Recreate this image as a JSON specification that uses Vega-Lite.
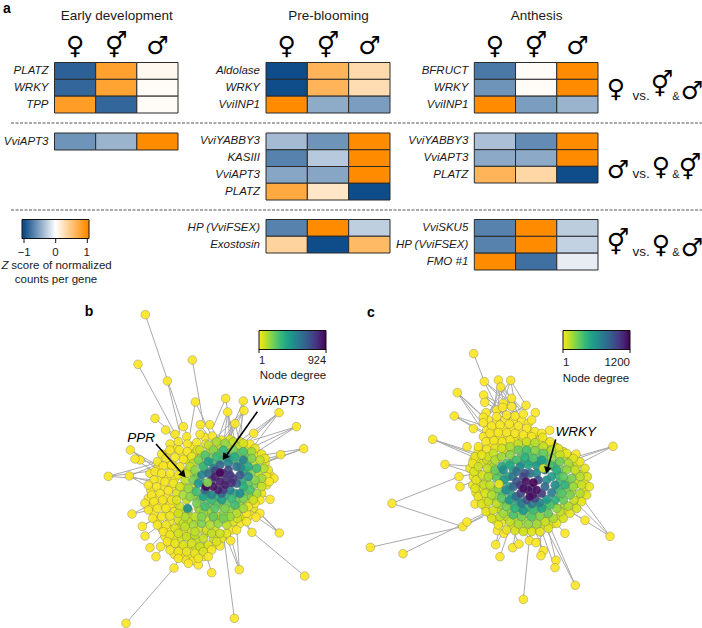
{"$schema":"https://vega.github.io/schema/vega-lite/v6.json","width":702,"height":628,"padding":0,"autosize":"none","background":"white",
"config":{"view":{"stroke":null},"font":"Liberation Sans","axis":{"grid":false,"domain":false,"ticks":false,"labelFont":"Liberation Sans","labelFontStyle":"italic","labelFontSize":11.5,"labelColor":"#1a1a1a","labelPadding":6.5,"labelOverlap":false,"title":null},"axisTop":{"labelFont":"DejaVu Sans","labelFontStyle":"normal","labelFontWeight":"bold","labelFontSize":25,"labelColor":"#000","labelAngle":0,"labelPadding":4,"titleFont":"Liberation Sans","titleFontSize":13.5,"titleFontWeight":"normal","titleColor":"#1a1a1a","titlePadding":11}},
"resolve":{"scale":{"x":"independent","y":"independent","color":"independent"}},
"layer":[
{"resolve":{"scale":{"x":"independent","y":"independent"}},
"encoding":{"color":{"field":"z","type":"quantitative","scale":{"domain":[-1.07,-1,0,1,1.07],"range":["#0f4c8a","#0f4c8a","#ffffff","#ff8c00","#ff8c00"],"interpolate":"rgb"},"legend":{"orient":"none","legendX":22,"legendY":219.5,"direction":"horizontal","gradientLength":67,"gradientThickness":19,"values":[-1,0,1],"format":".0f","labelAlign":"center","labelOffset":8,"labelFontSize":11.5,"labelColor":"#1a1a1a","labelFont":"Liberation Sans","title":null,"gradientStrokeColor":"#111","gradientStrokeWidth":1}}},
"layer":[
{"data":{"values":[{"gene":"PLATZ","sex":"♀","z":-0.88},{"gene":"PLATZ","sex":"⚥","z":0.82},{"gene":"PLATZ","sex":"♂","z":0.06},{"gene":"WRKY","sex":"♀","z":-0.85},{"gene":"WRKY","sex":"⚥","z":0.8},{"gene":"WRKY","sex":"♂","z":0.03},{"gene":"TPP","sex":"♀","z":0.85},{"gene":"TPP","sex":"⚥","z":-0.85},{"gene":"TPP","sex":"♂","z":0.03}]},"mark":{"type":"rect","stroke":"#2b2b2b","strokeWidth":1},
"encoding":{"x":{"field":"sex","type":"nominal","scale":{"domain":["♀","⚥","♂"],"range":[54.5,178],"paddingInner":0,"paddingOuter":0},"axis":{"orient":"top","offset":-62.5,"title":"Early development"}},"y":{"field":"gene","type":"nominal","scale":{"domain":["PLATZ","WRKY","TPP"],"range":[62.5,113],"paddingInner":0,"paddingOuter":0},"axis":{"orient":"left","offset":-54.5}}}},
{"data":{"values":[{"gene":"VviAPT3","sex":"♀","z":-0.6},{"gene":"VviAPT3","sex":"⚥","z":-0.42},{"gene":"VviAPT3","sex":"♂","z":1}]},"mark":{"type":"rect","stroke":"#2b2b2b","strokeWidth":1},
"encoding":{"x":{"field":"sex","type":"nominal","scale":{"domain":["♀","⚥","♂"],"range":[54.5,178],"paddingInner":0,"paddingOuter":0},"axis":null},"y":{"field":"gene","type":"nominal","scale":{"domain":["VviAPT3"],"range":[133,150],"paddingInner":0,"paddingOuter":0},"axis":{"orient":"left","offset":-54.5}}}},
{"data":{"values":[{"gene":"Aldolase","sex":"♀","z":-1},{"gene":"Aldolase","sex":"⚥","z":0.65},{"gene":"Aldolase","sex":"♂","z":0.32},{"gene":"WRKY","sex":"♀","z":-1},{"gene":"WRKY","sex":"⚥","z":0.65},{"gene":"WRKY","sex":"♂","z":0.3},{"gene":"VviINP1","sex":"♀","z":1},{"gene":"VviINP1","sex":"⚥","z":-0.47},{"gene":"VviINP1","sex":"♂","z":-0.55}]},"mark":{"type":"rect","stroke":"#2b2b2b","strokeWidth":1},
"encoding":{"x":{"field":"sex","type":"nominal","scale":{"domain":["♀","⚥","♂"],"range":[266,390],"paddingInner":0,"paddingOuter":0},"axis":{"orient":"top","offset":-62.5,"title":"Pre-blooming"}},"y":{"field":"gene","type":"nominal","scale":{"domain":["Aldolase","WRKY","VviINP1"],"range":[62.5,113],"paddingInner":0,"paddingOuter":0},"axis":{"orient":"left","offset":-266}}}},
{"data":{"values":[{"gene":"VviYABBY3","sex":"♀","z":-0.38},{"gene":"VviYABBY3","sex":"⚥","z":-0.6},{"gene":"VviYABBY3","sex":"♂","z":1},{"gene":"KASIII","sex":"♀","z":-0.7},{"gene":"KASIII","sex":"⚥","z":-0.3},{"gene":"KASIII","sex":"♂","z":1},{"gene":"VviAPT3","sex":"♀","z":-0.5},{"gene":"VviAPT3","sex":"⚥","z":-0.5},{"gene":"VviAPT3","sex":"♂","z":1},{"gene":"PLATZ","sex":"♀","z":0.75},{"gene":"PLATZ","sex":"⚥","z":0.22},{"gene":"PLATZ","sex":"♂","z":-1}]},"mark":{"type":"rect","stroke":"#2b2b2b","strokeWidth":1},
"encoding":{"x":{"field":"sex","type":"nominal","scale":{"domain":["♀","⚥","♂"],"range":[266,390],"paddingInner":0,"paddingOuter":0},"axis":null},"y":{"field":"gene","type":"nominal","scale":{"domain":["VviYABBY3","KASIII","VviAPT3","PLATZ"],"range":[133,200],"paddingInner":0,"paddingOuter":0},"axis":{"orient":"left","offset":-266}}}},
{"data":{"values":[{"gene":"HP (VviFSEX)","sex":"♀","z":-0.7},{"gene":"HP (VviFSEX)","sex":"⚥","z":1},{"gene":"HP (VviFSEX)","sex":"♂","z":-0.27},{"gene":"Exostosin","sex":"♀","z":0.38},{"gene":"Exostosin","sex":"⚥","z":-1},{"gene":"Exostosin","sex":"♂","z":0.6}]},"mark":{"type":"rect","stroke":"#2b2b2b","strokeWidth":1},
"encoding":{"x":{"field":"sex","type":"nominal","scale":{"domain":["♀","⚥","♂"],"range":[266,390],"paddingInner":0,"paddingOuter":0},"axis":null},"y":{"field":"gene","type":"nominal","scale":{"domain":["HP (VviFSEX)","Exostosin"],"range":[219.5,253],"paddingInner":0,"paddingOuter":0},"axis":{"orient":"left","offset":-266}}}},
{"data":{"values":[{"gene":"BFRUCT","sex":"♀","z":-0.75},{"gene":"BFRUCT","sex":"⚥","z":0.03},{"gene":"BFRUCT","sex":"♂","z":1},{"gene":"WRKY","sex":"♀","z":-0.6},{"gene":"WRKY","sex":"⚥","z":0.03},{"gene":"WRKY","sex":"♂","z":1},{"gene":"VviINP1","sex":"♀","z":1},{"gene":"VviINP1","sex":"⚥","z":-0.55},{"gene":"VviINP1","sex":"♂","z":-0.42}]},"mark":{"type":"rect","stroke":"#2b2b2b","strokeWidth":1},
"encoding":{"x":{"field":"sex","type":"nominal","scale":{"domain":["♀","⚥","♂"],"range":[474.3,598],"paddingInner":0,"paddingOuter":0},"axis":{"orient":"top","offset":-62.5,"title":"Anthesis"}},"y":{"field":"gene","type":"nominal","scale":{"domain":["BFRUCT","WRKY","VviINP1"],"range":[62.5,113],"paddingInner":0,"paddingOuter":0},"axis":{"orient":"left","offset":-474.3}}}},
{"data":{"values":[{"gene":"VviYABBY3","sex":"♀","z":-0.35},{"gene":"VviYABBY3","sex":"⚥","z":-0.65},{"gene":"VviYABBY3","sex":"♂","z":1},{"gene":"VviAPT3","sex":"♀","z":-0.48},{"gene":"VviAPT3","sex":"⚥","z":-0.48},{"gene":"VviAPT3","sex":"♂","z":1},{"gene":"PLATZ","sex":"♀","z":0.65},{"gene":"PLATZ","sex":"⚥","z":0.35},{"gene":"PLATZ","sex":"♂","z":-1}]},"mark":{"type":"rect","stroke":"#2b2b2b","strokeWidth":1},
"encoding":{"x":{"field":"sex","type":"nominal","scale":{"domain":["♀","⚥","♂"],"range":[474.3,598],"paddingInner":0,"paddingOuter":0},"axis":null},"y":{"field":"gene","type":"nominal","scale":{"domain":["VviYABBY3","VviAPT3","PLATZ"],"range":[133,183],"paddingInner":0,"paddingOuter":0},"axis":{"orient":"left","offset":-474.3}}}},
{"data":{"values":[{"gene":"VviSKU5","sex":"♀","z":-0.7},{"gene":"VviSKU5","sex":"⚥","z":1},{"gene":"VviSKU5","sex":"♂","z":-0.28},{"gene":"HP (VviFSEX)","sex":"♀","z":-0.7},{"gene":"HP (VviFSEX)","sex":"⚥","z":1},{"gene":"HP (VviFSEX)","sex":"♂","z":-0.25},{"gene":"FMO #1","sex":"♀","z":1},{"gene":"FMO #1","sex":"⚥","z":-0.8},{"gene":"FMO #1","sex":"♂","z":-0.1}]},"mark":{"type":"rect","stroke":"#2b2b2b","strokeWidth":1},
"encoding":{"x":{"field":"sex","type":"nominal","scale":{"domain":["♀","⚥","♂"],"range":[474.3,598],"paddingInner":0,"paddingOuter":0},"axis":null},"y":{"field":"gene","type":"nominal","scale":{"domain":["VviSKU5","HP (VviFSEX)","FMO #1"],"range":[219.5,270],"paddingInner":0,"paddingOuter":0},"axis":{"orient":"left","offset":-474.3}}}}
]},
{"encoding":{"x":{"field":"x","type":"quantitative","scale":{"domain":[-240,1866],"nice":false,"zero":false},"axis":null},"y":{"field":"y","type":"quantitative","scale":{"domain":[984,-900],"nice":false,"zero":false},"axis":null},"color":{"field":"d","type":"quantitative","scale":{"scheme":"viridis","reverse":true,"domain":[1,924]},"legend":{"orient":"none","legendX":259,"legendY":330.5,"direction":"horizontal","gradientLength":67,"gradientThickness":19,"values":[1,924],"format":"d","labelAlign":"center","labelOffset":5,"labelFontSize":11,"labelColor":"#1a1a1a","labelFont":"Liberation Sans","title":null,"gradientStrokeColor":"#111","gradientStrokeWidth":1}}},
"layer":[
{"data":{"values":[{"x":196,"y":44,"x2":310,"y2":380},{"x":174,"y":193,"x2":285,"y2":400},{"x":337,"y":180,"x2":370,"y2":370},{"x":262,"y":243,"x2":300,"y2":400},{"x":346,"y":306,"x2":400,"y2":420},{"x":346,"y":306,"x2":330,"y2":400},{"x":437,"y":295,"x2":400,"y2":380},{"x":437,"y":295,"x2":460,"y2":440},{"x":490,"y":303,"x2":440,"y2":420},{"x":490,"y":303,"x2":480,"y2":440},{"x":443,"y":336,"x2":430,"y2":440},{"x":443,"y":336,"x2":450,"y2":440},{"x":443,"y":336,"x2":470,"y2":440},{"x":492,"y":332,"x2":470,"y2":430},{"x":492,"y":332,"x2":420,"y2":430},{"x":492,"y":332,"x2":440,"y2":430},{"x":597,"y":338,"x2":470,"y2":430},{"x":597,"y":338,"x2":520,"y2":440},{"x":597,"y":338,"x2":500,"y2":420},{"x":649,"y":380,"x2":520,"y2":420},{"x":649,"y":380,"x2":540,"y2":450},{"x":671,"y":446,"x2":550,"y2":490},{"x":671,"y":446,"x2":570,"y2":480},{"x":602,"y":464,"x2":540,"y2":500},{"x":602,"y":464,"x2":550,"y2":480},{"x":151,"y":450,"x2":240,"y2":500},{"x":151,"y":450,"x2":250,"y2":520},{"x":85,"y":529,"x2":240,"y2":510},{"x":85,"y":529,"x2":230,"y2":540},{"x":148,"y":528,"x2":240,"y2":490},{"x":148,"y":528,"x2":230,"y2":550},{"x":180,"y":480,"x2":260,"y2":500},{"x":165,"y":477,"x2":260,"y2":540},{"x":570,"y":598,"x2":510,"y2":560},{"x":156,"y":642,"x2":240,"y2":600},{"x":598,"y":699,"x2":500,"y2":600},{"x":598,"y":699,"x2":520,"y2":620},{"x":598,"y":699,"x2":470,"y2":610},{"x":516,"y":697,"x2":480,"y2":640},{"x":674,"y":828,"x2":520,"y2":700},{"x":478,"y":809,"x2":430,"y2":690},{"x":478,"y":809,"x2":450,"y2":700},{"x":463,"y":955,"x2":430,"y2":700},{"x":138,"y":970,"x2":282,"y2":804},{"x":395,"y":818,"x2":380,"y2":770},{"x":282,"y":804,"x2":300,"y2":770},{"x":187,"y":679,"x2":250,"y2":640},{"x":195,"y":708,"x2":260,"y2":660},{"x":210,"y":743,"x2":270,"y2":680},{"x":228,"y":770,"x2":280,"y2":700},{"x":225,"y":355,"x2":300,"y2":420},{"x":257,"y":390,"x2":320,"y2":440},{"x":310,"y":380,"x2":330,"y2":420},{"x":361,"y":374,"x2":400,"y2":430},{"x":389,"y":374,"x2":430,"y2":440},{"x":465,"y":371,"x2":440,"y2":430},{"x":465,"y":371,"x2":480,"y2":430},{"x":521,"y":400,"x2":480,"y2":440},{"x":540,"y":640,"x2":480,"y2":620},{"x":528,"y":652,"x2":470,"y2":630},{"x":492,"y":332,"x2":400,"y2":420},{"x":443,"y":336,"x2":410,"y2":430},{"x":597,"y":338,"x2":490,"y2":440},{"x":649,"y":380,"x2":500,"y2":450},{"x":671,"y":446,"x2":520,"y2":470},{"x":85,"y":529,"x2":260,"y2":480},{"x":148,"y":528,"x2":240,"y2":580},{"x":598,"y":699,"x2":490,"y2":590},{"x":156,"y":642,"x2":260,"y2":620},{"x":478,"y":809,"x2":470,"y2":680},{"x":516,"y":697,"x2":450,"y2":620},{"x":187,"y":679,"x2":280,"y2":620}]},
"mark":{"type":"rule","stroke":"#aaaaaa","strokeWidth":1},"encoding":{"color":{"value":"#aaaaaa"},"x2":{"field":"x2"},"y2":{"field":"y2"}}},
{"data":{"values":[{"x":210,"y":520,"d":10},{"x":235,"y":500,"d":10},{"x":260,"y":495,"d":10},{"x":285,"y":500,"d":10},{"x":262,"y":460,"d":10},{"x":308,"y":465,"d":10},{"x":290,"y":445,"d":10},{"x":335,"y":440,"d":10},{"x":375,"y":412,"d":10},{"x":240,"y":540,"d":10},{"x":265,"y":535,"d":10},{"x":285,"y":535,"d":10},{"x":212,"y":570,"d":10},{"x":250,"y":560,"d":10},{"x":275,"y":565,"d":10},{"x":205,"y":595,"d":10},{"x":235,"y":595,"d":10},{"x":262,"y":590,"d":10},{"x":285,"y":610,"d":20},{"x":218,"y":618,"d":10},{"x":245,"y":612,"d":10},{"x":270,"y":615,"d":10},{"x":222,"y":640,"d":10},{"x":258,"y":640,"d":10},{"x":283,"y":635,"d":20},{"x":232,"y":662,"d":10},{"x":270,"y":665,"d":10},{"x":300,"y":675,"d":50},{"x":245,"y":685,"d":10},{"x":270,"y":690,"d":10},{"x":300,"y":715,"d":60},{"x":255,"y":710,"d":10},{"x":280,"y":715,"d":30},{"x":330,"y":715,"d":70},{"x":350,"y":720,"d":80},{"x":375,"y":700,"d":90},{"x":400,"y":715,"d":70},{"x":425,"y":715,"d":40},{"x":270,"y":735,"d":10},{"x":298,"y":742,"d":30},{"x":322,"y":742,"d":50},{"x":348,"y":745,"d":60},{"x":372,"y":742,"d":60},{"x":398,"y":740,"d":30},{"x":420,"y":738,"d":10},{"x":283,"y":763,"d":10},{"x":308,"y":768,"d":20},{"x":332,"y":770,"d":30},{"x":370,"y":770,"d":20},{"x":340,"y":782,"d":10},{"x":315,"y":778,"d":10},{"x":300,"y":765,"d":10},{"x":555,"y":490,"d":40},{"x":570,"y":525,"d":12},{"x":560,"y":555,"d":30},{"x":545,"y":580,"d":30},{"x":540,"y":600,"d":12},{"x":520,"y":625,"d":30},{"x":510,"y":645,"d":12},{"x":490,"y":650,"d":40},{"x":480,"y":670,"d":12},{"x":455,"y":690,"d":12},{"x":440,"y":700,"d":40},{"x":530,"y":460,"d":40},{"x":505,"y":445,"d":60},{"x":480,"y":425,"d":50},{"x":450,"y":418,"d":40},{"x":425,"y":420,"d":30},{"x":345,"y":460,"d":50},{"x":320,"y":480,"d":50},{"x":325,"y":510,"d":60},{"x":305,"y":520,"d":40},{"x":310,"y":560,"d":50},{"x":320,"y":600,"d":80},{"x":305,"y":640,"d":60},{"x":330,"y":650,"d":70},{"x":355,"y":625,"d":80},{"x":385,"y":640,"d":90},{"x":415,"y":650,"d":90},{"x":445,"y":640,"d":90},{"x":470,"y":625,"d":90},{"x":500,"y":610,"d":90},{"x":515,"y":590,"d":90},{"x":535,"y":550,"d":90},{"x":535,"y":520,"d":90},{"x":525,"y":490,"d":90},{"x":500,"y":465,"d":100},{"x":475,"y":440,"d":100},{"x":445,"y":440,"d":100},{"x":415,"y":440,"d":100},{"x":390,"y":450,"d":100},{"x":365,"y":465,"d":100},{"x":340,"y":520,"d":100},{"x":335,"y":560,"d":100},{"x":380,"y":690,"d":60},{"x":405,"y":690,"d":60},{"x":355,"y":685,"d":60},{"x":330,"y":695,"d":60},{"x":310,"y":695,"d":40},{"x":325,"y":665,"d":80},{"x":350,"y":660,"d":90},{"x":380,"y":660,"d":90},{"x":410,"y":660,"d":90},{"x":440,"y":660,"d":70},{"x":460,"y":665,"d":50},{"x":480,"y":650,"d":50},{"x":345,"y":590,"d":150},{"x":360,"y":630,"d":150},{"x":390,"y":630,"d":150},{"x":420,"y":615,"d":180},{"x":450,"y":630,"d":150},{"x":480,"y":610,"d":150},{"x":505,"y":585,"d":180},{"x":520,"y":555,"d":180},{"x":515,"y":515,"d":180},{"x":500,"y":475,"d":200},{"x":475,"y":460,"d":200},{"x":445,"y":460,"d":200},{"x":415,"y":460,"d":200},{"x":390,"y":475,"d":200},{"x":365,"y":490,"d":200},{"x":350,"y":530,"d":200},{"x":340,"y":575,"d":200},{"x":360,"y":600,"d":220},{"x":385,"y":610,"d":220},{"x":410,"y":610,"d":220},{"x":440,"y":610,"d":220},{"x":470,"y":600,"d":220},{"x":495,"y":575,"d":220},{"x":505,"y":550,"d":220},{"x":495,"y":510,"d":220},{"x":480,"y":490,"d":300},{"x":455,"y":480,"d":300},{"x":425,"y":480,"d":300},{"x":400,"y":490,"d":300},{"x":375,"y":510,"d":300},{"x":370,"y":550,"d":300},{"x":380,"y":580,"d":300},{"x":410,"y":590,"d":350},{"x":440,"y":585,"d":350},{"x":465,"y":580,"d":350},{"x":485,"y":545,"d":350},{"x":490,"y":515,"d":350}]},
"mark":{"type":"point","filled":true,"size":76,"fillOpacity":0.92,"stroke":"#666","strokeWidth":0.5,"strokeOpacity":0.7}},
{"data":{"values":[{"x":196,"y":44,"d":3},{"x":174,"y":193,"d":3},{"x":337,"y":180,"d":3},{"x":262,"y":243,"d":3},{"x":346,"y":306,"d":3},{"x":437,"y":295,"d":3},{"x":490,"y":303,"d":3},{"x":443,"y":336,"d":3},{"x":492,"y":332,"d":3},{"x":597,"y":338,"d":3},{"x":649,"y":380,"d":3},{"x":225,"y":355,"d":3},{"x":257,"y":390,"d":3},{"x":310,"y":380,"d":3},{"x":361,"y":374,"d":3},{"x":389,"y":374,"d":3},{"x":465,"y":371,"d":3},{"x":521,"y":400,"d":3},{"x":671,"y":446,"d":3},{"x":602,"y":464,"d":3},{"x":151,"y":450,"d":3},{"x":85,"y":529,"d":3},{"x":148,"y":528,"d":3},{"x":180,"y":480,"d":3},{"x":165,"y":477,"d":3},{"x":570,"y":598,"d":3},{"x":156,"y":642,"d":3},{"x":598,"y":699,"d":3},{"x":516,"y":697,"d":3},{"x":674,"y":828,"d":3},{"x":478,"y":809,"d":3},{"x":463,"y":955,"d":3},{"x":138,"y":970,"d":3},{"x":395,"y":818,"d":3},{"x":282,"y":804,"d":3},{"x":187,"y":679,"d":3},{"x":195,"y":708,"d":3},{"x":210,"y":743,"d":3},{"x":228,"y":770,"d":3},{"x":540,"y":640,"d":3},{"x":528,"y":652,"d":3},{"x":285,"y":403,"d":12},{"x":320,"y":410,"d":12},{"x":360,"y":403,"d":12},{"x":397,"y":408,"d":12},{"x":270,"y":432,"d":12},{"x":295,"y":425,"d":12},{"x":322,"y":432,"d":12},{"x":350,"y":428,"d":12},{"x":378,"y":432,"d":12},{"x":405,"y":430,"d":20},{"x":510,"y":432,"d":12},{"x":245,"y":462,"d":12},{"x":270,"y":450,"d":12},{"x":298,"y":450,"d":12},{"x":322,"y":455,"d":12},{"x":352,"y":450,"d":30},{"x":545,"y":462,"d":30},{"x":525,"y":445,"d":30},{"x":232,"y":485,"d":12},{"x":258,"y":475,"d":12},{"x":285,"y":472,"d":12},{"x":310,"y":478,"d":12},{"x":335,"y":470,"d":30},{"x":555,"y":475,"d":30},{"x":225,"y":515,"d":12},{"x":250,"y":498,"d":12},{"x":275,"y":495,"d":12},{"x":300,"y":500,"d":20},{"x":565,"y":510,"d":30},{"x":582,"y":535,"d":12},{"x":560,"y":530,"d":30},{"x":568,"y":545,"d":12},{"x":222,"y":540,"d":12},{"x":245,"y":520,"d":12},{"x":270,"y":520,"d":12},{"x":295,"y":525,"d":30},{"x":205,"y":555,"d":12},{"x":230,"y":560,"d":12},{"x":255,"y":545,"d":12},{"x":280,"y":550,"d":20},{"x":215,"y":585,"d":12},{"x":240,"y":580,"d":12},{"x":265,"y":572,"d":12},{"x":290,"y":580,"d":50},{"x":195,"y":610,"d":12},{"x":222,"y":605,"d":12},{"x":248,"y":600,"d":12},{"x":275,"y":600,"d":20},{"x":205,"y":630,"d":12},{"x":232,"y":625,"d":12},{"x":258,"y":625,"d":12},{"x":218,"y":655,"d":12},{"x":245,"y":650,"d":12},{"x":270,"y":648,"d":25},{"x":295,"y":660,"d":60},{"x":232,"y":675,"d":12},{"x":258,"y":675,"d":20},{"x":285,"y":685,"d":50},{"x":310,"y":670,"d":80},{"x":250,"y":695,"d":12},{"x":270,"y":705,"d":25},{"x":295,"y":700,"d":60},{"x":320,"y":710,"d":80},{"x":345,"y":705,"d":90},{"x":370,"y":715,"d":80},{"x":395,"y":700,"d":90},{"x":420,"y":700,"d":70},{"x":262,"y":725,"d":12},{"x":285,"y":730,"d":30},{"x":310,"y":735,"d":50},{"x":335,"y":730,"d":60},{"x":360,"y":740,"d":70},{"x":385,"y":735,"d":50},{"x":410,"y":725,"d":50},{"x":242,"y":740,"d":12},{"x":270,"y":750,"d":12},{"x":295,"y":755,"d":25},{"x":320,"y":755,"d":30},{"x":345,"y":760,"d":30},{"x":370,"y":755,"d":50},{"x":395,"y":750,"d":12},{"x":295,"y":775,"d":12},{"x":325,"y":790,"d":3},{"x":355,"y":795,"d":3},{"x":385,"y":770,"d":12},{"x":355,"y":775,"d":20},{"x":500,"y":640,"d":12},{"x":525,"y":610,"d":12},{"x":505,"y":620,"d":30},{"x":470,"y":690,"d":12},{"x":452,"y":722,"d":3},{"x":472,"y":655,"d":60},{"x":500,"y":665,"d":12},{"x":340,"y":490,"d":100},{"x":360,"y":450,"d":70},{"x":385,"y":435,"d":90},{"x":410,"y":425,"d":120},{"x":435,"y":430,"d":150},{"x":460,"y":425,"d":90},{"x":490,"y":430,"d":60},{"x":515,"y":455,"d":130},{"x":540,"y":480,"d":90},{"x":552,"y":505,"d":110},{"x":545,"y":535,"d":130},{"x":545,"y":560,"d":80},{"x":530,"y":580,"d":120},{"x":520,"y":600,"d":70},{"x":490,"y":625,"d":130},{"x":470,"y":640,"d":100},{"x":450,"y":650,"d":140},{"x":430,"y":640,"d":170},{"x":400,"y":650,"d":120},{"x":370,"y":640,"d":150},{"x":345,"y":650,"d":100},{"x":325,"y":630,"d":140},{"x":300,"y":620,"d":70},{"x":290,"y":600,"d":50},{"x":310,"y":585,"d":120},{"x":300,"y":560,"d":60},{"x":315,"y":540,"d":90},{"x":320,"y":520,"d":70},{"x":330,"y":500,"d":90},{"x":315,"y":650,"d":110},{"x":340,"y":675,"d":130},{"x":365,"y":670,"d":180},{"x":390,"y":675,"d":110},{"x":415,"y":670,"d":150},{"x":440,"y":675,"d":90},{"x":345,"y":695,"d":90},{"x":295,"y":640,"d":70},{"x":315,"y":680,"d":90},{"x":355,"y":480,"d":180},{"x":375,"y":465,"d":250},{"x":400,"y":450,"d":170},{"x":430,"y":450,"d":300},{"x":460,"y":450,"d":190},{"x":490,"y":455,"d":260},{"x":515,"y":475,"d":180},{"x":530,"y":505,"d":280},{"x":525,"y":540,"d":170},{"x":510,"y":570,"d":260},{"x":490,"y":595,"d":190},{"x":465,"y":615,"d":280},{"x":435,"y":625,"d":180},{"x":405,"y":625,"d":240},{"x":375,"y":620,"d":280},{"x":350,"y":610,"d":190},{"x":330,"y":590,"d":160},{"x":325,"y":565,"d":140},{"x":340,"y":540,"d":190},{"x":345,"y":510,"d":160},{"x":430,"y":655,"d":200},{"x":365,"y":650,"d":180},{"x":400,"y":650,"d":220},{"x":370,"y":500,"d":300},{"x":385,"y":485,"d":420},{"x":410,"y":470,"d":300},{"x":440,"y":470,"d":480},{"x":465,"y":470,"d":360},{"x":490,"y":480,"d":520},{"x":505,"y":500,"d":350},{"x":505,"y":530,"d":470},{"x":490,"y":560,"d":340},{"x":480,"y":580,"d":480},{"x":455,"y":595,"d":300},{"x":425,"y":600,"d":400},{"x":395,"y":600,"d":290},{"x":370,"y":590,"d":400},{"x":350,"y":575,"d":280},{"x":355,"y":550,"d":430},{"x":365,"y":525,"d":500},{"x":323,"y":625,"d":470},{"x":482,"y":503,"d":480},{"x":385,"y":520,"d":600},{"x":400,"y":505,"d":480},{"x":420,"y":495,"d":620},{"x":445,"y":490,"d":500},{"x":470,"y":500,"d":560},{"x":480,"y":525,"d":680},{"x":470,"y":550,"d":620},{"x":450,"y":570,"d":520},{"x":425,"y":580,"d":620},{"x":395,"y":585,"d":500},{"x":375,"y":570,"d":620},{"x":445,"y":510,"d":720},{"x":460,"y":535,"d":760},{"x":405,"y":512,"d":720},{"x":395,"y":540,"d":780},{"x":440,"y":540,"d":800},{"x":430,"y":570,"d":740},{"x":405,"y":530,"d":850},{"x":430,"y":520,"d":820},{"x":450,"y":525,"d":780},{"x":455,"y":548,"d":800},{"x":435,"y":555,"d":850},{"x":415,"y":570,"d":850},{"x":400,"y":560,"d":880},{"x":420,"y":545,"d":850},{"x":378,"y":560,"d":910},{"x":420,"y":518,"d":910},{"x":383,"y":548,"d":170}]},
"mark":{"type":"point","filled":true,"size":76,"fillOpacity":0.92,"stroke":"#666","strokeWidth":0.5,"strokeOpacity":0.7}},
{"data":{"values":[{"x":228,"y":432,"x2":305,"y2":519},{"x":532,"y":335,"x2":438,"y2":468}]},"mark":{"type":"rule","strokeWidth":1.6},"encoding":{"color":{"value":"#000"},"x2":{"field":"x2"},"y2":{"field":"y2"}}},
{"data":{"values":[{"x":310,"y":524,"a":138},{"x":434,"y":472,"a":215}]},"mark":{"type":"point","shape":"triangle-up","filled":true,"size":60,"opacity":1},"encoding":{"color":{"value":"#000"},"angle":{"field":"a","type":"quantitative","scale":null}}},
{"data":{"values":[{"x":183,"y":413,"t":"PPR"},{"x":594,"y":304,"t":"VviAPT3"}]},"mark":{"type":"text","fontStyle":"italic","fontSize":13.5,"font":"Liberation Sans"},"encoding":{"color":{"value":"#000"},"text":{"field":"t"}}}
]},
{"encoding":{"x":{"field":"x","type":"quantitative","scale":{"domain":[-1050,1056],"nice":false,"zero":false},"axis":null},"y":{"field":"y","type":"quantitative","scale":{"domain":[984,-900],"nice":false,"zero":false},"axis":null},"color":{"field":"d","type":"quantitative","scale":{"scheme":"viridis","reverse":true,"domain":[1,1200]},"legend":{"orient":"none","legendX":563,"legendY":330.5,"direction":"horizontal","gradientLength":67,"gradientThickness":19,"values":[1,1200],"format":"d","labelAlign":"center","labelOffset":7,"labelFontSize":11.5,"labelColor":"#1a1a1a","labelFont":"Liberation Sans","title":null,"gradientStrokeColor":"#111","gradientStrokeWidth":1}}},
"layer":[
{"data":{"values":[{"x":371,"y":161,"x2":403,"y2":245},{"x":403,"y":245,"x2":450,"y2":340},{"x":403,"y":245,"x2":480,"y2":320},{"x":445,"y":240,"x2":470,"y2":340},{"x":445,"y":240,"x2":430,"y2":340},{"x":482,"y":241,"x2":500,"y2":340},{"x":482,"y":241,"x2":450,"y2":340},{"x":482,"y":241,"x2":530,"y2":320},{"x":452,"y":261,"x2":420,"y2":340},{"x":452,"y":261,"x2":490,"y2":330},{"x":322,"y":278,"x2":400,"y2":350},{"x":322,"y":278,"x2":390,"y2":380},{"x":322,"y":278,"x2":420,"y2":400},{"x":401,"y":285,"x2":450,"y2":330},{"x":401,"y":285,"x2":500,"y2":340},{"x":485,"y":295,"x2":440,"y2":350},{"x":313,"y":348,"x2":400,"y2":400},{"x":313,"y":348,"x2":410,"y2":380},{"x":248,"y":418,"x2":390,"y2":470},{"x":248,"y":418,"x2":380,"y2":460},{"x":248,"y":418,"x2":390,"y2":480},{"x":285,"y":493,"x2":380,"y2":500},{"x":285,"y":493,"x2":370,"y2":520},{"x":126,"y":610,"x2":327,"y2":530},{"x":126,"y":610,"x2":338,"y2":680},{"x":61,"y":742,"x2":338,"y2":680},{"x":159,"y":761,"x2":351,"y2":666},{"x":338,"y":680,"x2":410,"y2":640},{"x":351,"y":666,"x2":420,"y2":630},{"x":338,"y":680,"x2":400,"y2":650},{"x":327,"y":530,"x2":380,"y2":520},{"x":330,"y":560,"x2":380,"y2":540},{"x":789,"y":439,"x2":680,"y2":470},{"x":789,"y":439,"x2":690,"y2":490},{"x":789,"y":439,"x2":670,"y2":480},{"x":780,"y":709,"x2":690,"y2":620},{"x":780,"y":709,"x2":670,"y2":640},{"x":780,"y":709,"x2":700,"y2":600},{"x":705,"y":661,"x2":670,"y2":640},{"x":645,"y":700,"x2":610,"y2":660},{"x":676,"y":856,"x2":600,"y2":680},{"x":676,"y":856,"x2":580,"y2":670},{"x":618,"y":781,"x2":590,"y2":670},{"x":615,"y":803,"x2":570,"y2":680},{"x":520,"y":898,"x2":540,"y2":700},{"x":573,"y":767,"x2":570,"y2":690},{"x":580,"y":752,"x2":550,"y2":680},{"x":558,"y":728,"x2":600,"y2":680},{"x":507,"y":732,"x2":480,"y2":670},{"x":488,"y":743,"x2":500,"y2":680},{"x":450,"y":770,"x2":480,"y2":680},{"x":437,"y":734,"x2":470,"y2":680},{"x":437,"y":734,"x2":450,"y2":680},{"x":538,"y":722,"x2":520,"y2":680},{"x":500,"y":320,"x2":420,"y2":400},{"x":440,"y":320,"x2":500,"y2":400},{"x":520,"y":320,"x2":450,"y2":380},{"x":420,"y":330,"x2":530,"y2":390},{"x":403,"y":245,"x2":500,"y2":320},{"x":445,"y":240,"x2":510,"y2":330},{"x":482,"y":241,"x2":420,"y2":330},{"x":452,"y":261,"x2":440,"y2":340},{"x":452,"y":261,"x2":530,"y2":340},{"x":401,"y":285,"x2":470,"y2":350},{"x":485,"y":295,"x2":420,"y2":340},{"x":404,"y":307,"x2":500,"y2":360},{"x":528,"y":316,"x2":430,"y2":370},{"x":322,"y":278,"x2":410,"y2":360},{"x":322,"y":278,"x2":430,"y2":380},{"x":313,"y":348,"x2":430,"y2":410}]},
"mark":{"type":"rule","strokeWidth":1},"encoding":{"color":{"value":"#aaaaaa"},"x2":{"field":"x2"},"y2":{"field":"y2"}}},
{"data":{"values":[{"x":415,"y":360,"d":8},{"x":440,"y":365,"d":8},{"x":465,"y":360,"d":8},{"x":490,"y":362,"d":8},{"x":515,"y":362,"d":8},{"x":535,"y":370,"d":8},{"x":410,"y":390,"d":10},{"x":435,"y":388,"d":10},{"x":460,"y":385,"d":10},{"x":485,"y":385,"d":10},{"x":510,"y":390,"d":10},{"x":540,"y":395,"d":10},{"x":560,"y":410,"d":10},{"x":400,"y":410,"d":12},{"x":425,"y":410,"d":15},{"x":450,"y":412,"d":15},{"x":475,"y":410,"d":15},{"x":500,"y":415,"d":15},{"x":525,"y":415,"d":20},{"x":550,"y":420,"d":20},{"x":395,"y":450,"d":15},{"x":420,"y":435,"d":20},{"x":445,"y":432,"d":30},{"x":470,"y":432,"d":30},{"x":495,"y":425,"d":30},{"x":520,"y":418,"d":40},{"x":575,"y":430,"d":40},{"x":600,"y":445,"d":40},{"x":385,"y":450,"d":15},{"x":370,"y":480,"d":30},{"x":360,"y":505,"d":30},{"x":380,"y":480,"d":40},{"x":398,"y":490,"d":60},{"x":370,"y":530,"d":40},{"x":385,"y":520,"d":60},{"x":385,"y":550,"d":60},{"x":368,"y":555,"d":30},{"x":390,"y":570,"d":60},{"x":378,"y":578,"d":40},{"x":395,"y":595,"d":60},{"x":405,"y":620,"d":50},{"x":420,"y":640,"d":40},{"x":435,"y":660,"d":40},{"x":455,"y":668,"d":40},{"x":485,"y":680,"d":60},{"x":510,"y":685,"d":70},{"x":535,"y":685,"d":70},{"x":560,"y":685,"d":70},{"x":585,"y":675,"d":80},{"x":610,"y":670,"d":70},{"x":630,"y":650,"d":70},{"x":650,"y":630,"d":80},{"x":670,"y":615,"d":80},{"x":690,"y":595,"d":60},{"x":700,"y":575,"d":60},{"x":705,"y":550,"d":60},{"x":700,"y":520,"d":70},{"x":680,"y":495,"d":80},{"x":660,"y":470,"d":80},{"x":640,"y":455,"d":90},{"x":615,"y":440,"d":90},{"x":410,"y":480,"d":90},{"x":425,"y":495,"d":100},{"x":420,"y":520,"d":100},{"x":408,"y":540,"d":100},{"x":415,"y":570,"d":100},{"x":425,"y":600,"d":110},{"x":445,"y":625,"d":110},{"x":470,"y":650,"d":130},{"x":495,"y":660,"d":130},{"x":520,"y":660,"d":150},{"x":550,"y":660,"d":150},{"x":575,"y":655,"d":150},{"x":600,"y":650,"d":150},{"x":625,"y":625,"d":150},{"x":645,"y":615,"d":150},{"x":665,"y":575,"d":130},{"x":680,"y":550,"d":130},{"x":680,"y":520,"d":130},{"x":660,"y":500,"d":150},{"x":640,"y":475,"d":150},{"x":615,"y":460,"d":180},{"x":590,"y":448,"d":180},{"x":565,"y":440,"d":180},{"x":540,"y":438,"d":180},{"x":515,"y":440,"d":180},{"x":490,"y":452,"d":180},{"x":465,"y":458,"d":180},{"x":445,"y":475,"d":150},{"x":430,"y":500,"d":150},{"x":430,"y":525,"d":150},{"x":430,"y":570,"d":150},{"x":440,"y":590,"d":200},{"x":455,"y":615,"d":200},{"x":480,"y":635,"d":220},{"x":505,"y":640,"d":220},{"x":535,"y":640,"d":250},{"x":560,"y":635,"d":250},{"x":590,"y":625,"d":250},{"x":610,"y":612,"d":250},{"x":630,"y":590,"d":250},{"x":650,"y":570,"d":250},{"x":655,"y":545,"d":250},{"x":640,"y":510,"d":250},{"x":620,"y":490,"d":300},{"x":590,"y":475,"d":300},{"x":565,"y":465,"d":300},{"x":540,"y":462,"d":300},{"x":515,"y":465,"d":300},{"x":490,"y":480,"d":350},{"x":470,"y":490,"d":350},{"x":450,"y":520,"d":350},{"x":452,"y":550,"d":350},{"x":458,"y":580,"d":350},{"x":470,"y":605,"d":350},{"x":485,"y":615,"d":400},{"x":510,"y":622,"d":400},{"x":535,"y":622,"d":400},{"x":565,"y":618,"d":400},{"x":590,"y":610,"d":400},{"x":625,"y":570,"d":400},{"x":630,"y":545,"d":400},{"x":625,"y":525,"d":400},{"x":610,"y":500,"d":400},{"x":590,"y":490,"d":400},{"x":565,"y":485,"d":500},{"x":540,"y":485,"d":500},{"x":515,"y":490,"d":500},{"x":490,"y":510,"d":500},{"x":475,"y":530,"d":500},{"x":478,"y":560,"d":500},{"x":485,"y":585,"d":500},{"x":505,"y":600,"d":500}]},
"mark":{"type":"point","filled":true,"size":76,"fillOpacity":0.92,"stroke":"#666","strokeWidth":0.5,"strokeOpacity":0.7}},
{"data":{"values":[{"x":371,"y":161,"d":5},{"x":403,"y":245,"d":5},{"x":445,"y":240,"d":5},{"x":482,"y":241,"d":5},{"x":452,"y":261,"d":5},{"x":322,"y":278,"d":5},{"x":401,"y":285,"d":5},{"x":485,"y":295,"d":5},{"x":404,"y":307,"d":5},{"x":528,"y":316,"d":5},{"x":313,"y":348,"d":5},{"x":556,"y":338,"d":5},{"x":370,"y":386,"d":5},{"x":599,"y":391,"d":5},{"x":248,"y":418,"d":5},{"x":789,"y":439,"d":5},{"x":678,"y":462,"d":5},{"x":285,"y":493,"d":5},{"x":351,"y":440,"d":5},{"x":327,"y":530,"d":5},{"x":330,"y":560,"d":5},{"x":126,"y":610,"d":5},{"x":61,"y":742,"d":5},{"x":159,"y":761,"d":5},{"x":338,"y":680,"d":5},{"x":351,"y":666,"d":5},{"x":705,"y":661,"d":5},{"x":780,"y":709,"d":5},{"x":645,"y":700,"d":5},{"x":437,"y":734,"d":5},{"x":450,"y":770,"d":5},{"x":488,"y":743,"d":5},{"x":507,"y":732,"d":5},{"x":538,"y":722,"d":5},{"x":558,"y":728,"d":5},{"x":580,"y":752,"d":5},{"x":573,"y":767,"d":5},{"x":618,"y":781,"d":5},{"x":615,"y":803,"d":5},{"x":676,"y":856,"d":5},{"x":520,"y":898,"d":5},{"x":375,"y":612,"d":5},{"x":442,"y":692,"d":5},{"x":462,"y":700,"d":5},{"x":460,"y":310,"d":8},{"x":485,"y":320,"d":8},{"x":440,"y":330,"d":8},{"x":458,"y":322,"d":8},{"x":495,"y":348,"d":8},{"x":520,"y":342,"d":8},{"x":545,"y":360,"d":8},{"x":470,"y":345,"d":8},{"x":440,"y":350,"d":8},{"x":408,"y":338,"d":8},{"x":400,"y":352,"d":8},{"x":400,"y":368,"d":8},{"x":425,"y":378,"d":10},{"x":450,"y":375,"d":10},{"x":478,"y":372,"d":10},{"x":505,"y":378,"d":10},{"x":530,"y":385,"d":10},{"x":555,"y":395,"d":10},{"x":575,"y":400,"d":10},{"x":420,"y":400,"d":15},{"x":445,"y":398,"d":15},{"x":470,"y":398,"d":15},{"x":495,"y":400,"d":15},{"x":520,"y":405,"d":15},{"x":545,"y":410,"d":15},{"x":570,"y":420,"d":15},{"x":590,"y":430,"d":15},{"x":408,"y":425,"d":15},{"x":432,"y":422,"d":25},{"x":457,"y":425,"d":25},{"x":480,"y":420,"d":25},{"x":385,"y":440,"d":15},{"x":410,"y":448,"d":20},{"x":435,"y":445,"d":40},{"x":460,"y":448,"d":40},{"x":610,"y":440,"d":25},{"x":375,"y":470,"d":40},{"x":368,"y":490,"d":30},{"x":372,"y":515,"d":60},{"x":378,"y":540,"d":50},{"x":375,"y":565,"d":60},{"x":385,"y":590,"d":40},{"x":395,"y":612,"d":60},{"x":408,"y":635,"d":40},{"x":425,"y":655,"d":70},{"x":445,"y":675,"d":30},{"x":470,"y":690,"d":50},{"x":495,"y":692,"d":70},{"x":520,"y":695,"d":90},{"x":545,"y":695,"d":60},{"x":570,"y":695,"d":40},{"x":595,"y":685,"d":60},{"x":620,"y":670,"d":40},{"x":640,"y":655,"d":70},{"x":660,"y":640,"d":50},{"x":680,"y":625,"d":80},{"x":695,"y":605,"d":40},{"x":710,"y":585,"d":60},{"x":718,"y":560,"d":40},{"x":712,"y":530,"d":70},{"x":705,"y":505,"d":50},{"x":690,"y":485,"d":40},{"x":670,"y":475,"d":60},{"x":650,"y":460,"d":40},{"x":625,"y":445,"d":60},{"x":600,"y":425,"d":30},{"x":578,"y":412,"d":40},{"x":415,"y":470,"d":80},{"x":395,"y":465,"d":50},{"x":385,"y":500,"d":90},{"x":398,"y":525,"d":70},{"x":402,"y":555,"d":100},{"x":405,"y":580,"d":70},{"x":415,"y":605,"d":90},{"x":430,"y":630,"d":70},{"x":450,"y":650,"d":110},{"x":430,"y":460,"d":100},{"x":455,"y":445,"d":80},{"x":480,"y":440,"d":140},{"x":505,"y":432,"d":110},{"x":530,"y":425,"d":90},{"x":555,"y":428,"d":130},{"x":580,"y":440,"d":100},{"x":605,"y":450,"d":140},{"x":630,"y":465,"d":100},{"x":655,"y":490,"d":150},{"x":675,"y":510,"d":100},{"x":690,"y":530,"d":130},{"x":695,"y":555,"d":90},{"x":690,"y":580,"d":140},{"x":672,"y":600,"d":100},{"x":655,"y":618,"d":140},{"x":630,"y":635,"d":110},{"x":610,"y":655,"d":150},{"x":585,"y":665,"d":100},{"x":560,"y":672,"d":170},{"x":535,"y":672,"d":200},{"x":505,"y":672,"d":150},{"x":480,"y":665,"d":110},{"x":460,"y":640,"d":170},{"x":440,"y":610,"d":120},{"x":425,"y":585,"d":140},{"x":420,"y":555,"d":110},{"x":415,"y":530,"d":140},{"x":412,"y":505,"d":110},{"x":435,"y":480,"d":140},{"x":455,"y":470,"d":170},{"x":480,"y":465,"d":200},{"x":505,"y":450,"d":280},{"x":530,"y":450,"d":350},{"x":555,"y":452,"d":220},{"x":580,"y":460,"d":280},{"x":605,"y":475,"d":200},{"x":630,"y":485,"d":260},{"x":650,"y":510,"d":190},{"x":665,"y":535,"d":240},{"x":670,"y":560,"d":180},{"x":660,"y":585,"d":240},{"x":640,"y":600,"d":280},{"x":620,"y":625,"d":190},{"x":595,"y":640,"d":280},{"x":570,"y":648,"d":220},{"x":545,"y":650,"d":320},{"x":515,"y":650,"d":250},{"x":490,"y":645,"d":340},{"x":470,"y":620,"d":250},{"x":455,"y":595,"d":300},{"x":445,"y":565,"d":220},{"x":440,"y":535,"d":300},{"x":435,"y":510,"d":280},{"x":455,"y":500,"d":480},{"x":500,"y":480,"d":350},{"x":525,"y":472,"d":430},{"x":550,"y":475,"d":330},{"x":575,"y":480,"d":520},{"x":600,"y":495,"d":350},{"x":620,"y":510,"d":440},{"x":640,"y":530,"d":300},{"x":645,"y":555,"d":420},{"x":635,"y":580,"d":320},{"x":615,"y":600,"d":430},{"x":600,"y":615,"d":340},{"x":575,"y":625,"d":500},{"x":550,"y":630,"d":380},{"x":520,"y":632,"d":560},{"x":495,"y":625,"d":420},{"x":478,"y":600,"d":560},{"x":468,"y":570,"d":620},{"x":462,"y":540,"d":550},{"x":460,"y":510,"d":620},{"x":480,"y":495,"d":480},{"x":510,"y":500,"d":620},{"x":535,"y":495,"d":480},{"x":560,"y":498,"d":560},{"x":585,"y":510,"d":650},{"x":605,"y":530,"d":520},{"x":615,"y":555,"d":620},{"x":605,"y":578,"d":700},{"x":590,"y":598,"d":560},{"x":568,"y":608,"d":650},{"x":545,"y":612,"d":720},{"x":515,"y":610,"d":700},{"x":498,"y":590,"d":760},{"x":490,"y":560,"d":800},{"x":488,"y":530,"d":700},{"x":500,"y":515,"d":760},{"x":540,"y":520,"d":760},{"x":560,"y":520,"d":640},{"x":590,"y":540,"d":600},{"x":500,"y":545,"d":880},{"x":525,"y":520,"d":900},{"x":545,"y":565,"d":1000},{"x":447,"y":552,"d":40},{"x":520,"y":530,"d":950},{"x":510,"y":555,"d":980},{"x":512,"y":580,"d":950},{"x":530,"y":600,"d":900},{"x":555,"y":595,"d":950},{"x":575,"y":580,"d":1000},{"x":585,"y":560,"d":800},{"x":565,"y":540,"d":900},{"x":528,"y":545,"d":1150},{"x":535,"y":570,"d":1150},{"x":548,"y":585,"d":1150},{"x":520,"y":565,"d":1150},{"x":560,"y":570,"d":1150},{"x":540,"y":590,"d":1150},{"x":550,"y":548,"d":1190},{"x":580,"y":505,"d":100}]},
"mark":{"type":"point","filled":true,"size":76,"fillOpacity":0.92,"stroke":"#666","strokeWidth":0.5,"strokeOpacity":0.7}},
{"data":{"values":[{"x":617,"y":418,"x2":593,"y2":507}]},"mark":{"type":"rule","strokeWidth":1.6},"encoding":{"color":{"value":"#000"},"x2":{"field":"x2"},"y2":{"field":"y2"}}},
{"data":{"values":[{"x":591,"y":511,"a":195}]},"mark":{"type":"point","shape":"triangle-up","filled":true,"size":60,"opacity":1},"encoding":{"color":{"value":"#000"},"angle":{"field":"a","type":"quantitative","scale":null}}},
{"data":{"values":[{"x":677,"y":395,"t":"WRKY"}]},"mark":{"type":"text","fontStyle":"italic","fontSize":13.5,"font":"Liberation Sans"},"encoding":{"color":{"value":"#000"},"text":{"field":"t"}}}
]},
{"encoding":{"x":{"field":"x","type":"quantitative","scale":{"domain":[0,702],"nice":false,"zero":false},"axis":null},"y":{"field":"y","type":"quantitative","scale":{"domain":[628,0],"nice":false,"zero":false},"axis":null}},
"layer":[
{"data":{"values":[{"x":11,"x2":702,"y":123},{"x":11,"x2":702,"y":210}]},"mark":{"type":"rule","stroke":"#555","strokeWidth":1,"strokeDash":[3,1.5]},"encoding":{"x2":{"field":"x2"}}},
{"data":{"values":[{"x":24,"y":238.5,"y2":243},{"x":55.7,"y":238.5,"y2":243},{"x":87.3,"y":238.5,"y2":243},{"x":259,"y":349,"y2":353},{"x":326,"y":349,"y2":353},{"x":563,"y":349,"y2":353},{"x":630,"y":349,"y2":353}]},"mark":{"type":"rule","stroke":"#111","strokeWidth":1},"encoding":{"y2":{"field":"y2"}}},
{"data":{"values":[{"x":7,"y":9,"t":"a"},{"x":89,"y":312,"t":"b"},{"x":371,"y":313,"t":"c"}]},"mark":{"type":"text","fontWeight":"bold","fontSize":14,"font":"Liberation Sans","color":"#000"},"encoding":{"text":{"field":"t"}}},
{"data":{"values":[{"x":61.5,"y":266,"t":"score of normalized"},{"x":56,"y":280,"t":"counts per gene"},{"x":293,"y":376,"t":"Node degree"},{"x":596,"y":379,"t":"Node degree"}]},"mark":{"type":"text","fontSize":11.5,"font":"Liberation Sans","color":"#1a1a1a"},"encoding":{"text":{"field":"t"}}},
{"data":{"values":[{"x":5,"y":266,"t":"Z"}]},"mark":{"type":"text","fontSize":11.5,"fontStyle":"italic","font":"Liberation Sans","color":"#1a1a1a"},"encoding":{"text":{"field":"t"}}},
{"data":{"values":[{"x":616,"y":89,"t":"♀"},{"x":662,"y":85,"t":"⚥"},{"x":692,"y":91,"t":"♂"},{"x":618,"y":170,"t":"♂"},{"x":661,"y":167,"t":"♀"},{"x":690,"y":168,"t":"⚥"},{"x":618,"y":243,"t":"⚥"},{"x":661,"y":245,"t":"♀"},{"x":692,"y":248,"t":"♂"}]},"mark":{"type":"text","fontSize":25,"fontWeight":"bold","font":"DejaVu Sans","color":"#000"},"encoding":{"text":{"field":"t"}}},
{"data":{"values":[{"x":641,"y":96,"t":"vs."},{"x":641,"y":174,"t":"vs."},{"x":641,"y":252,"t":"vs."}]},"mark":{"type":"text","fontSize":13.5,"font":"Liberation Sans","color":"#1a1a1a"},"encoding":{"text":{"field":"t"}}},
{"data":{"values":[{"x":676,"y":97,"t":"&"},{"x":676,"y":175,"t":"&"},{"x":676,"y":253,"t":"&"}]},"mark":{"type":"text","fontSize":11,"font":"Liberation Sans","color":"#1a1a1a"},"encoding":{"text":{"field":"t"}}}
]}
]}
